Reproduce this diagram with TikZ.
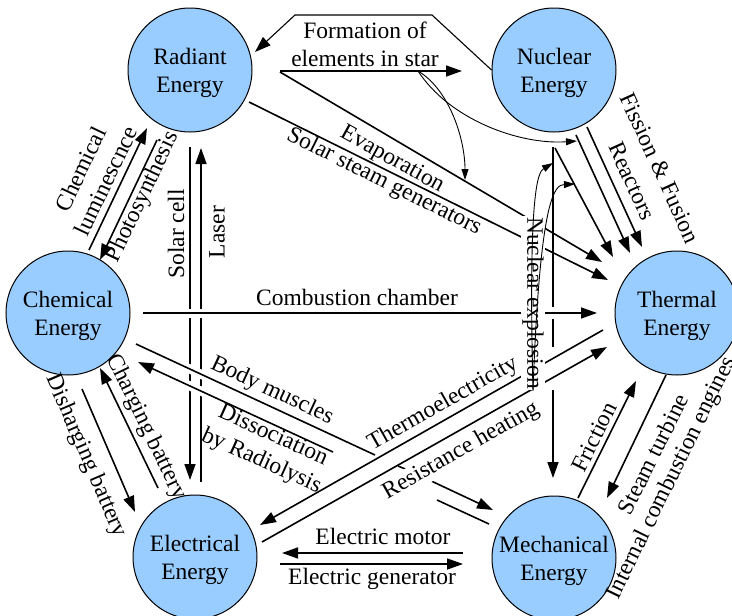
\documentclass[tikz,border=0pt]{standalone}
\usepackage{fontspec}
\setmainfont{Liberation Serif}
\usetikzlibrary{arrows.meta}
\definecolor{eblue}{RGB}{153,204,255}
\begin{document}
\begin{tikzpicture}[x=1pt,y=-1pt,
  font=\fontsize{23.5}{28}\selectfont,
  energy/.style={circle,draw=black,line width=1pt,fill=eblue,minimum size=124pt,inner sep=0pt,align=center,text depth=-3pt},
  flow/.style={line width=1.6pt,-{Triangle[length=16pt,width=11pt]}},
  bareline/.style={line width=1.6pt},
  hint/.style={line width=0.9pt,-{Triangle[length=11pt,width=7pt]}},
  halo/.style={preaction={draw=white,line width=9pt,-}},
  lbl/.style={inner sep=1pt,align=center},
  cut/.style={fill=white,inner sep=1.5pt,align=center}]
\useasboundingbox (0,0) rectangle (732,616);

% energy forms
\node[energy] (rad)   at (190,70)  {Radiant\\Energy};
\node[energy] (nuc)   at (554,70)  {Nuclear\\Energy};
\node[energy] (chem)  at (68,313)  {Chemical\\Energy};
\node[energy] (therm) at (677,313) {Thermal\\Energy};
\node[energy] (elec)  at (195,557) {Electrical\\Energy};
\node[energy] (mech)  at (554,558) {Mechanical\\Energy};

% end points of the conversion arrows
\coordinate (loopA) at (432,15);
\coordinate (loopB) at (295,15);
\coordinate (radIn) at (255,52);
\coordinate (starL) at (280,71);
\coordinate (starR) at (462,71);
\coordinate (starT) at (418,71);
\coordinate (evA) at (280,72);   \coordinate (evB) at (602,262);
\coordinate (ssA) at (249,102);  \coordinate (ssB) at (608,280);
\coordinate (evHit) at (465,180);
\coordinate (fiHit) at (577,141);
\coordinate (nxV0) at (553,147); \coordinate (nxV1) at (553,478);
\coordinate (nxD0) at (555,148); \coordinate (nxD1) at (613,257);
\coordinate (nxHitV) at (553,163);
\coordinate (nxHitD) at (575,184);
\coordinate (fiA0) at (576,135); \coordinate (fiA1) at (630,253);
\coordinate (fiB0) at (587,127); \coordinate (fiB1) at (642,247);
\coordinate (clA) at (89,250);   \coordinate (clB) at (147,128);
\coordinate (psA) at (157,140);  \coordinate (psB) at (100,260);
\coordinate (scA) at (190,147);  \coordinate (scB) at (190,480);
\coordinate (lsA) at (201,482);  \coordinate (lsB) at (201,148);
\coordinate (cbA) at (143,313);  \coordinate (cbB) at (597,313);
\coordinate (dbA) at (82,389);   \coordinate (dbB) at (135,512);
\coordinate (cgA) at (158,488);  \coordinate (cgB) at (100,368);
\coordinate (bmA) at (136,344);  \coordinate (bmB) at (493,510);
\coordinate (drA) at (489,524);  \coordinate (drB) at (138,362);
\coordinate (teA) at (603,330);  \coordinate (teB) at (260,525);
\coordinate (rhA) at (262,542);  \coordinate (rhB) at (607,347);
\coordinate (frA) at (578,498);  \coordinate (frB) at (636,381);
\coordinate (stA) at (666,375);  \coordinate (stB) at (607,498);
\coordinate (emA) at (463,553);  \coordinate (emB) at (282,553);
\coordinate (egA) at (280,564);  \coordinate (egB) at (463,564);

% lines that get crossed by others
\draw[flow] (scA) -- (scB);
\draw[flow] (lsA) -- (lsB);
% nuclear explosion -> mechanical, broken where other arrows cross it
\draw[flow] (nxV0) -- (553,307) (553,319) -- (553,347) (553,390) -- (nxV1);

% chemical <-> mechanical, broken at the crossings further right
\draw[flow,halo] (bmA) -- (375,455) (398,466) -- (410,471) (427,479) -- (bmB);
\draw[flow,halo] (drA) -- (437,500) (333,452) -- (drB);

% chemical -> thermal
\draw[flow,halo] (cbA) -- (cbB);

% thermal <-> electrical
\draw[flow] (teA) -- (teB);
\draw[flow] (rhA) -- (rhB);

% radiant <-> nuclear
\draw[line width=1.1pt,-{Triangle[length=16pt,width=11pt]}] (nuc.west) -- (loopA) -- (loopB) -- (radIn);
\draw[flow] (starL) -- (starR);
\draw[hint] (starT) .. controls (450,90) and (465,140) .. (evHit);
\draw[hint] (starT) .. controls (450,120) and (520,145) .. (fiHit);

% radiant -> thermal
\draw[flow] (evA) -- (evB);
\draw[flow] (ssA) -- (ssB);

% nuclear -> thermal
\draw[flow] (fiA0) -- (fiA1);
\draw[flow] (fiB0) -- (fiB1);
\draw[flow] (nxD0) -- (nxD1);

% radiant <-> chemical
\draw[flow] (clA) -- (clB);
\draw[flow] (psA) -- (psB);

% chemical <-> electrical
\draw[flow] (dbA) -- (dbB);
\draw[flow] (cgA) -- (cgB);

% thermal <-> mechanical
\draw[flow] (frA) -- (frB);
\draw[flow] (stA) -- (stB);

% electrical <-> mechanical
\draw[flow] (emA) -- (emB);
\draw[flow] (egA) -- (egB);

% labels
\node[lbl] at (365,44) {Formation of\\elements in star};
\node[lbl,rotate=-29] at (392,160) {Evaporation};
\node[lbl,rotate=-26.5] at (384,182) {Solar steam generators};
\node[cut,rotate=-90] (nxl) at (533,303) {Nuclear explosion};
\draw[hint] (nxl.east) .. controls (528,190) and (538,172) .. (nxHitV);
\draw[hint] (nxl.east) .. controls (540,195) and (555,185) .. (nxHitD);
\node[lbl,rotate=-65.5] at (660,168) {Fission \& Fusion};
\node[lbl,rotate=-65.5] at (632,181) {Reactors};
\node[lbl,rotate=64.6] at (93,175) {Chemical\\luminescnce};
\node[lbl,rotate=64.6] at (143,197) {Photosynthesis};
\node[lbl,rotate=90] at (176,234) {Solar cell};
\node[lbl,rotate=90] at (217,232) {Laser};
\node[lbl] at (357,297) {Combustion chamber};
\node[lbl,rotate=-66.7] at (86,456) {Disharging battery};
\node[lbl,rotate=-64.2] at (146,427) {Charging battery};
\node[lbl,rotate=-24.9] at (272,391) {Body muscles};
\node[lbl,rotate=-24.3] at (267,449) {Dissociation\\by Radiolysis};
\node[lbl,rotate=29.6] at (443,404) {Thermoelectricity};
\node[cut,rotate=29.6] at (461,451) {Resistance heating};
\node[lbl,rotate=63.5] at (594,437) {Friction};
\node[lbl,rotate=63.5] at (653,454) {Steam turbine};
\node[lbl,rotate=63.9] at (672,478) {Internal combustion engines};
\node[lbl] at (383,536) {Electric motor};
\node[lbl] at (372,579) {Electric generator};
\end{tikzpicture}
\end{document}
